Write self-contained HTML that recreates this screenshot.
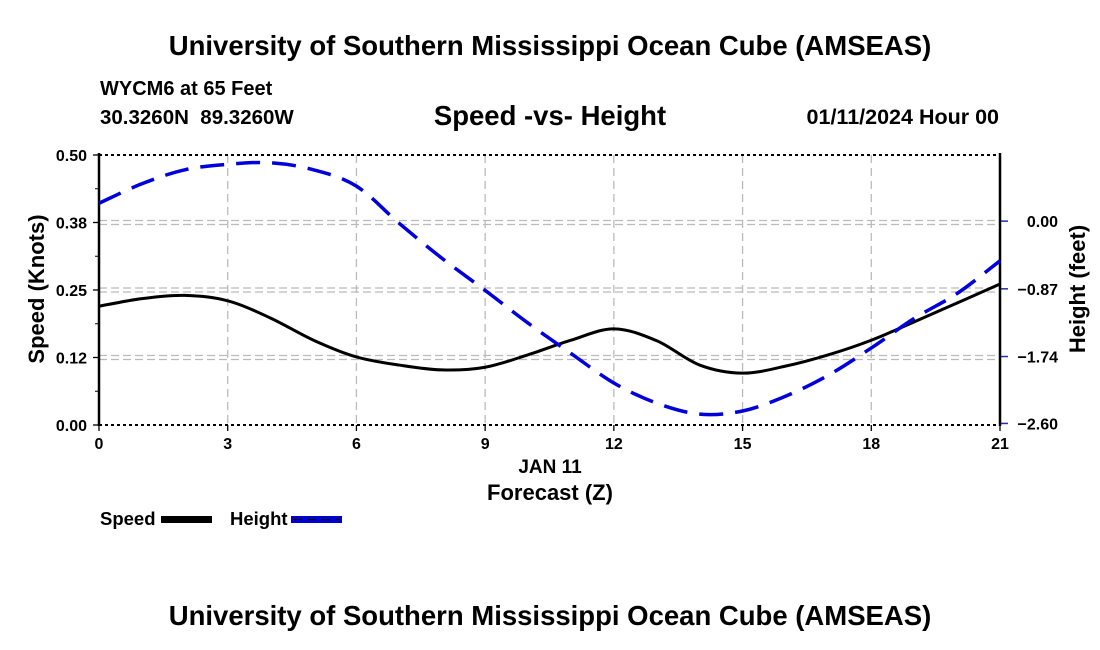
<!DOCTYPE html>
<html><head><meta charset="utf-8"><style>
html,body{margin:0;padding:0;background:#fff;}
svg{display:block;font-family:"Liberation Sans",Arial,sans-serif;font-weight:bold;}
</style></head><body>
<svg id="c" width="1100" height="650" viewBox="0 0 1100 650">
<text x="550" y="55" text-anchor="middle" font-size="27.5">University of Southern Mississippi Ocean Cube (AMSEAS)</text>
<text x="100" y="95" font-size="20">WYCM6 at 65 Feet</text>
<text x="100" y="124" font-size="20.5" xml:space="preserve">30.3260N  89.3260W</text>
<text x="550" y="125" text-anchor="middle" font-size="27.5">Speed -vs- Height</text>
<text x="999" y="124" text-anchor="end" font-size="21.5">01/11/2024 Hour 00</text>
<g id="grid"></g>
<g id="axes"></g>
<g id="series"></g>
<text x="550" y="473" text-anchor="middle" font-size="19">JAN 11</text>
<text x="550" y="500" text-anchor="middle" font-size="22">Forecast (Z)</text>
<text transform="translate(44,289) rotate(-90)" text-anchor="middle" font-size="22">Speed (Knots)</text>
<text transform="translate(1085,289) rotate(-90)" text-anchor="middle" font-size="22">Height (feet)</text>
<g>
<text x="100" y="525" font-size="18.5">Speed</text>
<rect x="161" y="516" width="51" height="7" fill="#000"/>
<text x="230" y="525" font-size="18.5">Height</text>
<rect x="291" y="516" width="51" height="7" fill="#0000cc"/>
<line x1="293" y1="519.5" x2="340" y2="519.5" stroke="#000" stroke-width="1" stroke-dasharray="9,5"/>
</g>
<text x="550" y="625" text-anchor="middle" font-size="27.5">University of Southern Mississippi Ocean Cube (AMSEAS)</text>
</svg>
<script>
const hours=[0,1,2,3,4,5,6,7,8,9,10,11,12,13,14,15,16,17,18,19,20,21];
const speed=[0.220,0.234,0.240,0.230,0.198,0.157,0.126,0.111,0.102,0.107,0.130,0.157,0.178,0.156,0.111,0.096,0.109,0.130,0.157,0.191,0.226,0.261];
const height=[0.23,0.48,0.66,0.73,0.75,0.66,0.45,-0.03,-0.48,-0.89,-1.31,-1.70,-2.08,-2.34,-2.48,-2.44,-2.25,-1.98,-1.63,-1.25,-0.93,-0.51];
const xTicks=[0,3,6,9,12,15,18,21];
const speedTicks=[0,0.125,0.25,0.375,0.5];
const speedTickLabels=["0.00","0.12","0.25","0.38","0.50"];
const heightTicks=[-2.60,-1.74,-0.87,0.00];
const heightTickLabels=["\u22122.60","\u22121.74","\u22120.87","0.00"];
const L=99,R=1000,T=155,B=425;
const X=h=>L+(h-0)/(21-0)*(R-L);
const YS=v=>B-v/0.5*(B-T);
const YH=v=>B-(v+2.62)/(0.85+2.62)*(B-T);
const NS="http://www.w3.org/2000/svg";
function mk(tag,attrs,parent){const e=document.createElementNS(NS,tag);for(const k in attrs)e.setAttribute(k,attrs[k]);parent.appendChild(e);return e;}
const grid=document.getElementById('grid'),axes=document.getElementById('axes'),series=document.getElementById('series');
xTicks.forEach(h=>{
  if(h>0&&h<21){const l=mk('line',{x1:X(h),y1:T,x2:X(h),y2:B,stroke:'#bbb','stroke-width':1.3,'stroke-dasharray':'8,5'},grid);
  
  }
  const t=mk('text',{x:X(h),y:B+24,'text-anchor':'middle','font-size':16},axes);t.textContent=h;
  
  
  const tk=mk('line',{x1:X(h),y1:B,x2:X(h),y2:B+6,stroke:'#000','stroke-width':1.3},axes);
  
  
});
speedTicks.forEach((v,i)=>{
  const y=YS(v);
  if(i>0&&i<speedTicks.length-1){[-2,2].forEach(d=>{const g=mk('line',{x1:L,y1:y+d,x2:R,y2:y+d,stroke:'#bbb','stroke-width':1.3,'stroke-dasharray':'8,4'},grid);
    
    });}
  const t=mk('text',{x:L-12,y:y+6,'text-anchor':'end','font-size':16},axes);t.textContent=speedTickLabels[i];
  
  
  const tk=mk('line',{x1:L-6,y1:y,x2:L,y2:y,stroke:'#000','stroke-width':1.3},axes);
  
  
});
[0.0625,0.1875,0.3125,0.4375].forEach(v=>{const tk=mk('line',{x1:L-4,y1:YS(v),x2:L,y2:YS(v),stroke:'#000','stroke-width':1},axes);
  
  });
heightTicks.forEach((v,i)=>{
  const y=YH(v);
  const t=mk('text',{x:R+58,y:y+6,'text-anchor':'end','font-size':16},axes);t.textContent=heightTickLabels[i];
  
  
  const tk=mk('line',{x1:R,y1:y,x2:R+8,y2:y,stroke:'#2a2aaa','stroke-width':1.5},axes);
  
  
});
[T,B].forEach(y=>{const b=mk('line',{x1:L,y1:y,x2:R,y2:y,stroke:'#000','stroke-width':2,'stroke-dasharray':'3,3'},axes);
  
  });
[L,R].forEach(x=>{const b=mk('line',{x1:x,y1:T-2,x2:x,y2:B+1,stroke:'#000','stroke-width':2.5},axes);
  
  });
function path(vals,Y){
  const p=hours.map((h,i)=>[X(h),Y(vals[i])]);
  let d='M'+p[0][0]+','+p[0][1];
  for(let i=0;i<p.length-1;i++){
    const p0=p[i-1]||p[i],p1=p[i],p2=p[i+1],p3=p[i+2]||p2;
    d+=' C'+(p1[0]+(p2[0]-p0[0])/6)+','+(p1[1]+(p2[1]-p0[1])/6)+' '+(p2[0]-(p3[0]-p1[0])/6)+','+(p2[1]-(p3[1]-p1[1])/6)+' '+p2[0]+','+p2[1];
  }
  return d;
}
const sp=mk('path',{d:path(speed,YS),fill:'none',stroke:'#000','stroke-width':3},series);


const hp=mk('path',{d:path(height,YH),fill:'none',stroke:'#0000dd','stroke-width':3.5,'stroke-dasharray':'24,12'},series);


</script>
</body></html>
